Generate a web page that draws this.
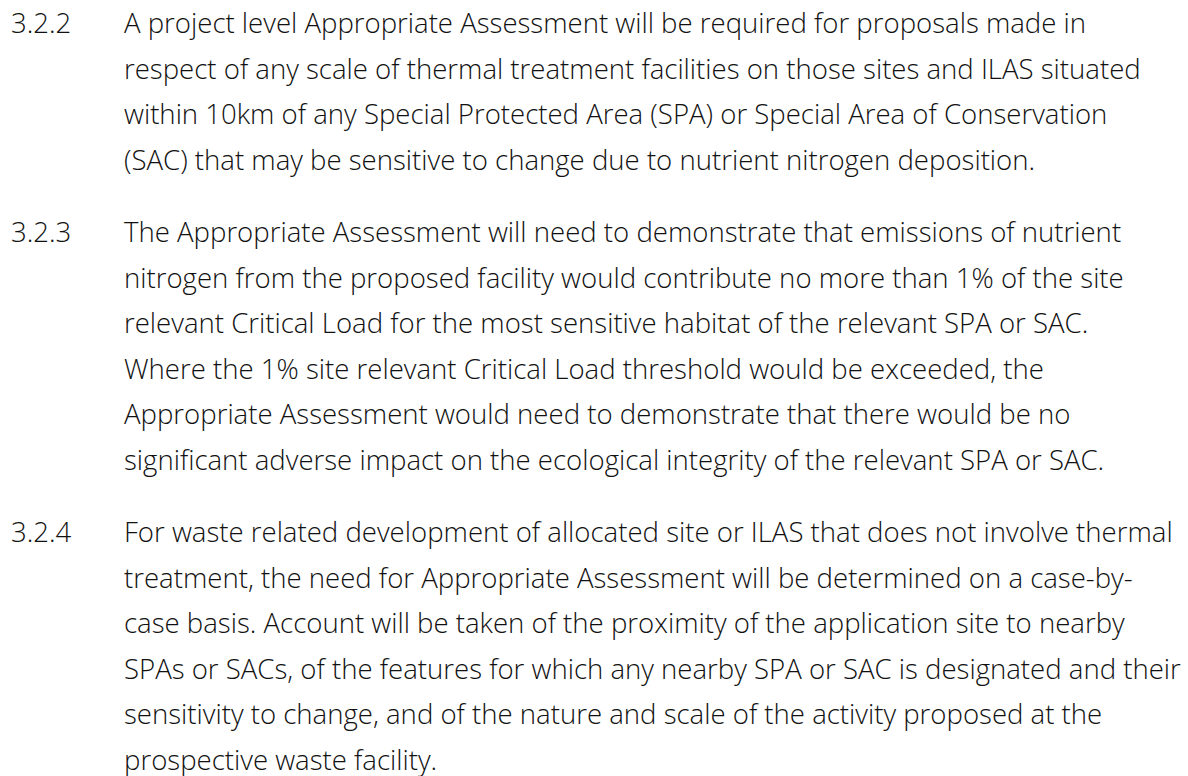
<!DOCTYPE html>
<html>
<head>
<meta charset="utf-8">
<script src="https://cdn.jsdelivr.net/npm/chart.js@4.4.1/dist/chart.umd.min.js"></script>
<style>
  html, body { margin: 0; padding: 0; background: #ffffff; }
  body { width: 1188px; height: 776px; overflow: hidden; }
  #page {
    position: relative;
    padding-top: 0px;
    font-family: "Open Sans", "Lato", "Noto Sans", sans-serif;
    font-weight: 300;
    font-size: 27.5px;
    line-height: 45.5px;
    color: #111111;
  }
  .para { position: relative; margin-bottom: 27px; }
  .num { position: absolute; left: 11px; top: 0; }
  .body { margin-left: 124px; }
  .line { white-space: nowrap; }
</style>
</head>
<body>
<div id="page"></div>
<script>
// paragraph numbers and the text, one entry per printed line
var paraNumbers = ['3.2.2', '3.2.3', '3.2.4'];

var para1Lines = [
  'A project level Appropriate Assessment will be required for proposals made in',
  'respect of any scale of thermal treatment facilities on those sites and ILAS situated',
  'within 10km of any Special Protected Area (SPA) or Special Area of Conservation',
  '(SAC) that may be sensitive to change due to nutrient nitrogen deposition.'
];

var para2Lines = [
  'The Appropriate Assessment will need to demonstrate that emissions of nutrient',
  'nitrogen from the proposed facility would contribute no more than 1% of the site',
  'relevant Critical Load for the most sensitive habitat of the relevant SPA or SAC.',
  'Where the 1% site relevant Critical Load threshold would be exceeded, the',
  'Appropriate Assessment would need to demonstrate that there would be no',
  'significant adverse impact on the ecological integrity of the relevant SPA or SAC.'
];

var para3Lines = [
  'For waste related development of allocated site or ILAS that does not involve thermal',
  'treatment, the need for Appropriate Assessment will be determined on a case-by-',
  'case basis. Account will be taken of the proximity of the application site to nearby',
  'SPAs or SACs, of the features for which any nearby SPA or SAC is designated and their',
  'sensitivity to change, and of the nature and scale of the activity proposed at the',
  'prospective waste facility.'
];

var paraLines = [para1Lines, para2Lines, para3Lines];

var page = document.getElementById('page');
var firstLine = null;

for (var i = 0; i < paraNumbers.length; i++) {
  var p = document.createElement('div');
  p.className = 'para';
  var n = document.createElement('div');
  n.className = 'num';
  n.textContent = paraNumbers[i];
  p.appendChild(n);
  var b = document.createElement('div');
  b.className = 'body';
  for (var j = 0; j < paraLines[i].length; j++) {
    var l = document.createElement('div');
    l.className = 'line';
    var s = document.createElement('span');
    s.textContent = paraLines[i][j];
    l.appendChild(s);
    b.appendChild(l);
    if (!firstLine) firstLine = s;
  }
  p.appendChild(b);
  page.appendChild(p);
}

// fit the font so the first line is as wide as in the original (~962px)
function fit() {
  var w = firstLine.getBoundingClientRect().width;
  var cur = parseFloat(getComputedStyle(page).fontSize);
  if (w > 0) {
    page.style.fontSize = (cur * 962 / w).toFixed(2) + 'px';
  }
}
fit();
if (document.fonts && document.fonts.ready) {
  document.fonts.ready.then(fit);
}
</script>
</body>
</html>
